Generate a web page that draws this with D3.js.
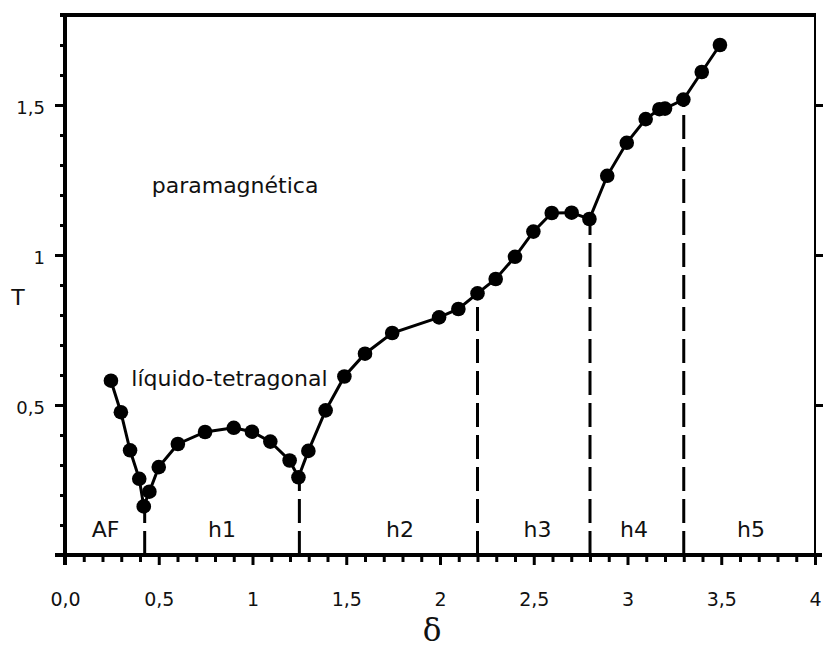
<!DOCTYPE html>
<html lang="es">
<head>
<meta charset="UTF-8">
<title>Diagrama de fases</title>
<style>
  body { margin: 0; background: #fff; }
  svg { display: block; }
  text { font-family: "DejaVu Sans", sans-serif; fill: #111; }
  .delta { font-family: "DejaVu Serif", serif; }
</style>
</head>
<body>
<svg width="826" height="650"></svg>
<script src="https://d3js.org/d3.v7.min.js"></script>
<script>
// curva de transicion (delta, T)
const delta = [0.245, 0.298, 0.347, 0.396, 0.42, 0.45, 0.5, 0.602, 0.747, 0.9, 0.997, 1.095, 1.198, 1.245,
  1.298, 1.39, 1.49, 1.6, 1.745, 1.995, 2.098, 2.2, 2.297, 2.4, 2.498, 2.596, 2.702, 2.797, 2.892, 2.996,
  3.097, 3.17, 3.2, 3.298, 3.396, 3.493];
const temp = [0.581, 0.476, 0.349, 0.254, 0.162, 0.211, 0.293, 0.37, 0.41, 0.424, 0.411, 0.378, 0.315, 0.259,
  0.347, 0.482, 0.595, 0.671, 0.74, 0.792, 0.82, 0.872, 0.92, 0.994, 1.078, 1.14, 1.141, 1.12, 1.264, 1.374,
  1.453, 1.486, 1.488, 1.518, 1.61, 1.7];

// fronteras entre fases (lineas discontinuas)
const fronteraX = [0.425, 1.25, 2.2, 2.8, 3.3];
const fronteraT = [0.162, 0.259, 0.872, 1.12, 1.518];

// nombres de fases
const fases = ["AF", "h1", "h2", "h3", "h4", "h5"];
const fasesX = [0.216, 0.837, 1.787, 2.52, 3.035, 3.659];
const fasesT = 0.06;

const etiquetas = ["paramagnética", "líquido-tetragonal"];
const etiquetasX = [0.907, 0.877];
const etiquetasT = [1.207, 0.565];

const xTicks = [0, 0.5, 1, 1.5, 2, 2.5, 3, 3.5, 4];
const xTickLabels = ["0,0", "0,5", "1", "1,5", "2", "2,5", "3", "3,5", "4"];
const yTicks = [0.5, 1, 1.5];
const yTickLabels = ["0,5", "1", "1,5"];

const svg = d3.select("svg");
const x = d3.scaleLinear().domain([0, 4]).range([65, 815]);
const y = d3.scaleLinear().domain([0, 1.8]).range([555, 15]);

const minorX = d3.range(1, 40).map(i => i / 10).filter(v => Math.round(v * 10) % 5 !== 0);
const minorY = d3.range(1, 18).map(i => i / 10).filter(v => Math.round(v * 10) % 5 !== 0);

// ejes
function estilo(g) {
  g.attr("font-family", null).attr("font-size", null);
  g.select(".domain").remove();
  g.selectAll("line").attr("stroke", "#000").attr("stroke-width", 3);
}

svg.append("g").attr("transform", `translate(0,${y(0)})`)
  .call(d3.axisBottom(x).tickValues(minorX).tickSize(7).tickFormat(""))
  .call(estilo);
svg.append("g").attr("transform", `translate(0,${y(0)})`)
  .call(d3.axisBottom(x).tickValues(xTicks).tickSize(10).tickFormat((d, i) => xTickLabels[i]))
  .call(estilo)
  .selectAll("text").attr("y", 38).attr("font-size", 19);

svg.append("g").attr("transform", `translate(${x(0)},0)`)
  .call(d3.axisLeft(y).tickValues(minorY).tickSize(5).tickFormat(""))
  .call(estilo);
svg.append("g").attr("transform", `translate(${x(0)},0)`)
  .call(d3.axisLeft(y).tickValues(yTicks).tickSize(10).tickFormat((d, i) => yTickLabels[i]))
  .call(estilo)
  .selectAll("text").attr("x", -20).attr("dy", "0.45em").attr("font-size", 18);

svg.append("g").attr("transform", `translate(${x(4)},0)`)
  .call(d3.axisRight(y).tickValues(yTicks).tickSize(8).tickFormat(""))
  .call(estilo);

// marco
svg.append("line").attr("x1", x(0) - 10).attr("x2", x(4) + 7).attr("y1", y(0)).attr("y2", y(0))
  .attr("stroke", "#000").attr("stroke-width", 4);
svg.append("line").attr("x1", x(0)).attr("x2", x(0)).attr("y1", y(1.8)).attr("y2", y(0) + 10)
  .attr("stroke", "#000").attr("stroke-width", 4);
svg.append("line").attr("x1", x(0) - 5).attr("x2", x(4) + 1).attr("y1", y(1.8)).attr("y2", y(1.8))
  .attr("stroke", "#000").attr("stroke-width", 4);
svg.append("line").attr("x1", x(4)).attr("x2", x(4)).attr("y1", y(1.8)).attr("y2", y(0))
  .attr("stroke", "#000").attr("stroke-width", 2);

// fronteras
svg.selectAll(".frontera").data(fronteraX).join("line")
  .attr("class", "frontera")
  .attr("x1", d => x(d)).attr("x2", d => x(d))
  .attr("y1", y(0)).attr("y2", (d, i) => y(fronteraT[i]))
  .attr("stroke", "#000").attr("stroke-width", 3)
  .attr("stroke-dasharray", "24,8");

// curva
const puntos = delta.map((d, i) => [d, temp[i]]);
svg.append("path").datum(puntos)
  .attr("fill", "none").attr("stroke", "#000").attr("stroke-width", 3)
  .attr("d", d3.line().x(d => x(d[0])).y(d => y(d[1])));
svg.selectAll(".punto").data(puntos).join("circle")
  .attr("class", "punto")
  .attr("cx", d => x(d[0])).attr("cy", d => y(d[1])).attr("r", 7.3)
  .attr("fill", "#000");

// textos
svg.selectAll(".fase").data(fases).join("text")
  .attr("class", "fase")
  .attr("x", (d, i) => x(fasesX[i])).attr("y", y(fasesT))
  .attr("text-anchor", "middle").attr("font-size", 22)
  .text(d => d);

svg.selectAll(".etiqueta").data(etiquetas).join("text")
  .attr("class", "etiqueta")
  .attr("x", (d, i) => x(etiquetasX[i])).attr("y", (d, i) => y(etiquetasT[i]))
  .attr("text-anchor", "middle").attr("font-size", 22)
  .text(d => d);

svg.append("text").attr("x", 18).attr("y", 305)
  .attr("text-anchor", "middle").attr("font-size", 22).text("T");
svg.append("text").attr("class", "delta").attr("x", x(2) - 8).attr("y", 641)
  .attr("text-anchor", "middle").attr("font-size", 31).text("δ");
</script>
</body>
</html>
